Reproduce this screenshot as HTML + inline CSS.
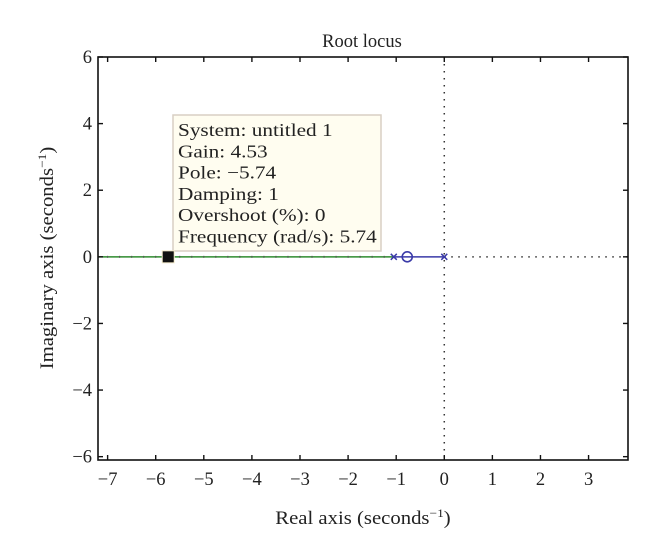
<!DOCTYPE html>
<html><head><meta charset="utf-8"><style>
body{margin:0;background:#fff;}
svg{display:block;font-family:"Liberation Serif",serif;}
</style></head><body>
<svg id="c" width="660" height="550">
<rect width="660" height="550" fill="#fff"/>
</svg>
<script>
const xTicks=[-7,-6,-5,-4,-3,-2,-1,0,1,2,3];
const yTicks=[-6,-4,-2,0,2,4,6];
const poles=[-1.05,0];
const zeros=[-0.77];
const greenBranch=[-7.2,-1.05];
const blueBranch=[-1.05,0];
const selected=[-5.74,0];
const tipLines=["System: untitled 1","Gain: 4.53","Pole: \u22125.74","Damping: 1","Overshoot (%): 0","Frequency (rad/s): 5.74"];
const L=98,R=628,T=57,B=460,x0=-7.2,x1=3.82,y0=-6.1,y1=6;
const sx=v=>L+(v-x0)/(x1-x0)*(R-L);
const sy=v=>B-(v-y0)/(y1-y0)*(B-T);
const svg=document.getElementById('c');
const NS='http://www.w3.org/2000/svg';
function mk(t,a,txt){const e=document.createElementNS(NS,t);for(const k in a)e.setAttribute(k,a[k]);if(txt!=null)e.textContent=txt;svg.appendChild(e);return e;}
function widen(el,f){const w=el.getComputedTextLength();el.setAttribute('textLength',w*f);el.setAttribute('lengthAdjust','spacingAndGlyphs');}
let e=mk('line',{x1:sx(0),y1:T,x2:sx(0),y2:B,stroke:'#333','stroke-width':1.5,'stroke-dasharray':'1.5 5.5'});

e=mk('line',{x1:sx(0),y1:sy(0),x2:R,y2:sy(0),stroke:'#333','stroke-width':1.5,'stroke-dasharray':'1.5 5.5'});

e=mk('line',{x1:sx(greenBranch[0]),y1:sy(0),x2:sx(greenBranch[1]),y2:sy(0),stroke:'#2e8b2e','stroke-width':1.5});

for(let v=-7;v<-1.1;v+=0.25){e=mk('line',{x1:sx(v),y1:sy(0)-1,x2:sx(v),y2:sy(0)+1,stroke:'#555','stroke-width':1});
}
e=mk('line',{x1:sx(blueBranch[0]),y1:sy(0),x2:sx(blueBranch[1]),y2:sy(0),stroke:'#3a3aa8','stroke-width':1.5});

poles.forEach(p=>{const x=sx(p),y=sy(0);
e=mk('path',{d:`M${x-3},${y-3}L${x+3},${y+3}M${x-3},${y+3}L${x+3},${y-3}`,stroke:'#3a3aa8','stroke-width':1.5,fill:'none'});
});
zeros.forEach(z=>{e=mk('circle',{cx:sx(z),cy:sy(0),r:5,stroke:'#3a3aa8','stroke-width':1.6,fill:'none'});
});
e=mk('rect',{x:L,y:T,width:R-L,height:B-T,fill:'none',stroke:'#111','stroke-width':1.6});

xTicks.forEach(v=>{const x=sx(v);
e=mk('line',{x1:x,y1:B,x2:x,y2:B-5,stroke:'#111','stroke-width':1.4});
e=mk('line',{x1:x,y1:T,x2:x,y2:T+5,stroke:'#111','stroke-width':1.4});
e=mk('text',{x:x,y:B+25,'text-anchor':'middle','font-size':18.5,fill:'#222'},v<0?'\u2212'+(-v):String(v));
});
yTicks.forEach(v=>{const y=sy(v);
e=mk('line',{x1:L,y1:y,x2:L+5,y2:y,stroke:'#111','stroke-width':1.4});
e=mk('line',{x1:R,y1:y,x2:R-5,y2:y,stroke:'#111','stroke-width':1.4});
e=mk('text',{x:L-6,y:y+6,'text-anchor':'end','font-size':18.5,fill:'#222'},v<0?'\u2212'+(-v):String(v));
});
e=mk('rect',{x:173,y:115,width:208,height:136,fill:'#fffdf0',stroke:'#d8cfc4','stroke-width':1.5});

tipLines.forEach((t,i)=>{e=mk('text',{x:178,y:136+i*21.3,'font-size':18,fill:'#222'},t);

widen(e,1.18);});
e=mk('rect',{x:sx(selected[0])-6,y:sy(selected[1])-6,width:12,height:12,fill:'#111',stroke:'#f5eccc','stroke-width':1});

e=mk('text',{x:362,y:47,'text-anchor':'middle','font-size':18.5,fill:'#222'},'Root locus');

e=mk('text',{x:363,y:524,'text-anchor':'middle','font-size':18.5,fill:'#222'});

e.innerHTML='Real axis (seconds<tspan dy="-7" font-size="12">\u22121</tspan><tspan dy="7">)</tspan>';
widen(e,1.12);
e=mk('text',{x:0,y:0,'text-anchor':'middle','font-size':18.5,fill:'#222',transform:'translate(53,258) rotate(-90)'});

e.innerHTML='Imaginary axis (seconds<tspan dy="-7" font-size="12">\u22121</tspan><tspan dy="7">)</tspan>';
widen(e,1.12);
</script>
</body></html>
